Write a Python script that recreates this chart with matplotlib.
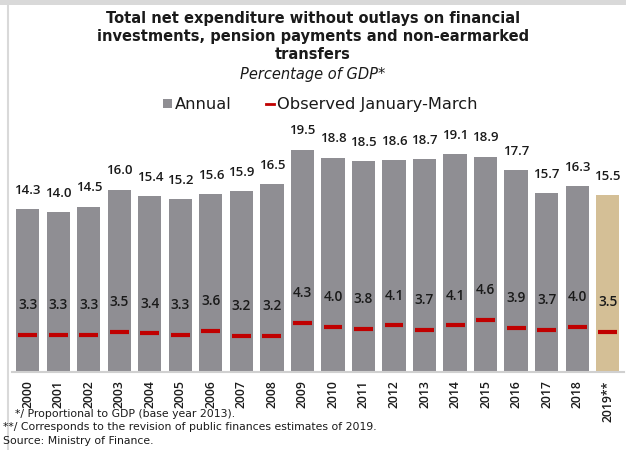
import matplotlib.pyplot as plt
from matplotlib.patches import Rectangle
from matplotlib.lines import Line2D

years = ["2000", "2001", "2002", "2003", "2004", "2005", "2006", "2007", "2008", "2009",
         "2010", "2011", "2012", "2013", "2014", "2015", "2016", "2017", "2018", "2019**"]
annual = [14.3, 14.0, 14.5, 16.0, 15.4, 15.2, 15.6, 15.9, 16.5, 19.5,
          18.8, 18.5, 18.6, 18.7, 19.1, 18.9, 17.7, 15.7, 16.3, 15.5]
jan_mar = [3.3, 3.3, 3.3, 3.5, 3.4, 3.3, 3.6, 3.2, 3.2, 4.3,
           4.0, 3.8, 4.1, 3.7, 4.1, 4.6, 3.9, 3.7, 4.0, 3.5]

gray = "#8f8e93"
tan = "#d4bf96"
red = "#c00000"
txt = "#1a1a1a"
label_font = ['Open Sans', 'DejaVu Sans']

plt.rcParams['font.family'] = ['DejaVu Sans']

fig = plt.figure(figsize=(6.26, 4.5), dpi=100)
fig.patch.set_facecolor("white")

# frame bits
fig.add_artist(Rectangle((0, 0.988), 1, 0.012, transform=fig.transFigure,
                         facecolor="#d9d9d9", edgecolor="none"))
fig.add_artist(Line2D([0.012, 0.012], [0, 0.988], transform=fig.transFigure,
                      color="#d9d9d9", lw=1.5))

ax = fig.add_axes([0.019, 0.173, 0.978, 0.545])
x = list(range(len(years)))
colors = [gray] * (len(years) - 1) + [tan]
ax.bar(x, annual, width=0.76, color=colors, zorder=2)
ax.hlines(jan_mar, [i - 0.31 for i in x], [i + 0.31 for i in x],
          color=red, lw=3, zorder=3)

for i in x:
    ax.annotate(f"{annual[i]:.1f}", (i, annual[i]), xytext=(0, 13.5),
                textcoords="offset points", ha="center", va="center",
                fontsize=9.5, fontweight="semibold", family=label_font, color=txt)
    ax.annotate(f"{jan_mar[i]:.1f}", (i, jan_mar[i]), xytext=(0, 21.5),
                textcoords="offset points", ha="center", va="center",
                fontsize=9.8, fontweight="semibold", family=label_font, color=txt)

ax.set_xlim(-0.52, 19.54)
ax.set_ylim(0, 21.5)
ax.set_xticks(x)
ax.set_xticklabels(years, rotation=90, fontsize=8.8, fontweight="semibold",
                   family=label_font, color=txt)
ax.tick_params(axis="x", length=0, pad=6)
ax.set_yticks([])
for s in ["top", "right", "left"]:
    ax.spines[s].set_visible(False)
ax.spines["bottom"].set_color("#d0d0d0")
ax.spines["bottom"].set_linewidth(1.5)

# title block
fig.text(0.5, 0.975, "Total net expenditure without outlays on financial\n"
         "investments, pension payments and non-earmarked\ntransfers",
         ha="center", va="top", fontsize=10.5, fontweight="bold", color=txt,
         linespacing=1.22)
fig.text(0.5, 0.835, "Percentage of GDP*", ha="center", va="center",
         fontsize=10.5, style="italic", color=txt)

# legend
fig.add_artist(Rectangle((0.261, 0.759), 0.0145, 0.02, transform=fig.transFigure,
                         facecolor=gray, edgecolor="none"))
fig.text(0.280, 0.768, "Annual", ha="left", va="center", fontsize=11.7, color=txt)
fig.add_artist(Line2D([0.425, 0.437], [0.768, 0.768], transform=fig.transFigure,
                      color=red, lw=2))
fig.text(0.443, 0.768, "Observed January-March", ha="left", va="center",
         fontsize=11.7, color=txt)

# footnotes
fig.text(0.024, 0.079, "*/ Proportional to GDP (base year 2013).", fontsize=7.8,
         color=txt, va="center")
fig.text(0.005, 0.05, "**/ Corresponds to the revision of public finances estimates of 2019.",
         fontsize=7.8, color=txt, va="center")
fig.text(0.005, 0.021, "Source: Ministry of Finance.", fontsize=7.8, color=txt,
         va="center")

fig.savefig("out.png", dpi=100)
